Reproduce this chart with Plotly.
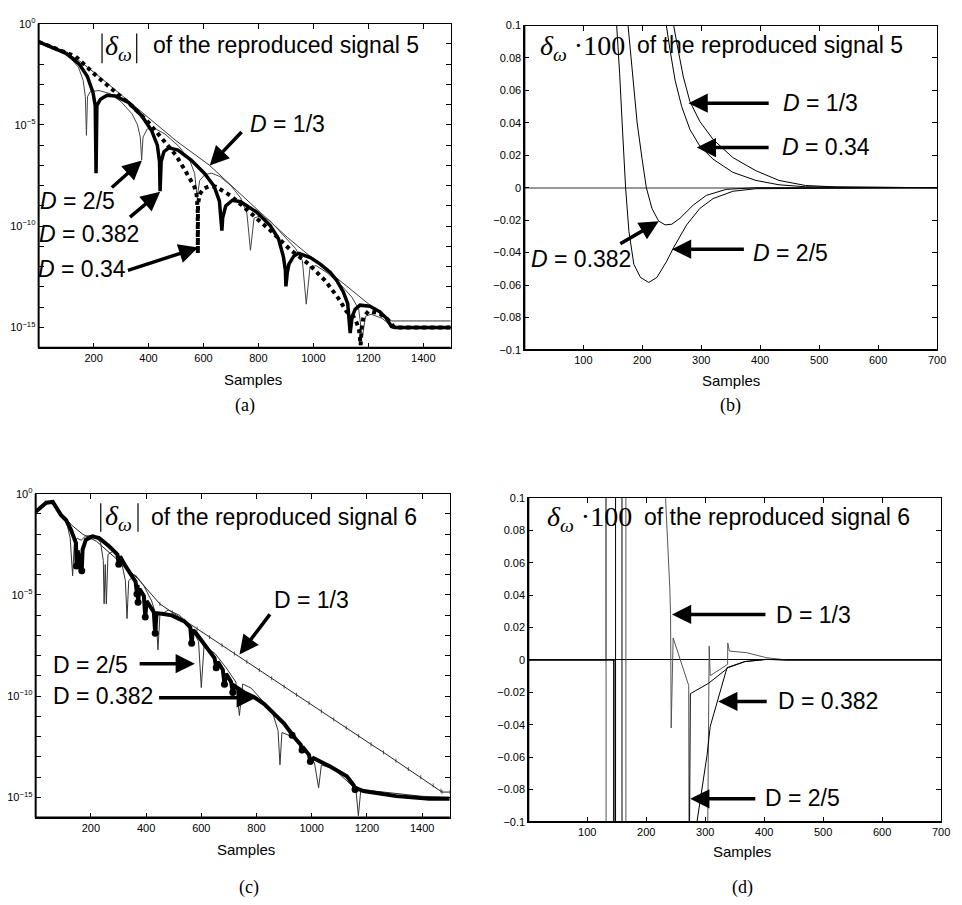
import plotly.graph_objects as go

W, H = 962, 905


def px(x):
    return x / W


def py(y):
    return 1 - y / H


# ---------------- Panel (a): |delta_w| of reproduced signal 5 (log10 values) ----------------
a_x_13 = [0, 40, 100, 150, 220, 300, 400, 500, 620, 750, 905, 1000, 1100, 1200, 1265, 1285, 1500]
a_e_13 = [-0.89, -1.08, -1.42, -1.85, -2.6, -3.5, -4.65, -5.78, -6.97, -8.6, -10.55, -11.62, -12.72,
          -13.85, -14.55, -14.68, -14.68]

a_x_25 = [0, 60, 110, 145, 162, 170, 174, 178, 188, 220, 260, 300, 340, 360, 370, 375, 380, 395, 420, 460,
          510, 550, 568, 577, 586, 605, 630, 660, 700, 735, 758, 771, 784, 805, 840, 890, 935, 960, 974, 988,
          1010, 1050, 1100, 1140, 1165, 1178, 1190, 1210, 1250, 1290, 1310, 1500]
a_e_25 = [-0.89, -1.2, -1.6, -2.15, -2.8, -3.6, -5.51, -3.6, -3.35, -3.3, -3.45, -3.85, -4.45, -5.0, -5.6,
          -6.73, -5.6, -5.2, -5.15, -5.45, -6.05, -6.75, -7.4, -8.6, -7.75, -7.45, -7.38, -7.55, -8.0, -8.6,
          -9.35, -11.19, -9.6, -9.5, -9.7, -10.45, -11.1, -11.7, -13.85, -12.0, -11.95, -12.3, -12.9, -13.5,
          -14.1, -15.5, -14.45, -14.35, -14.55, -15.0, -15.06, -15.06]

a_x_382 = [0, 40, 100, 147, 177, 198, 206, 209, 212, 225, 249, 279, 327, 375, 411, 432, 440, 442, 446, 456,
           474, 507, 555, 603, 639, 658, 664, 667, 670, 681, 705, 735, 795, 843, 873, 891, 898, 900, 905, 911,
           929, 947, 989, 1025, 1061, 1085, 1109, 1125, 1134, 1141, 1152, 1170, 1206, 1242, 1266, 1284, 1296,
           1500]
a_e_382 = [-0.89, -1.10, -1.46, -1.98, -2.59, -3.41, -4.05, -7.38, -4.05, -3.73, -3.53, -3.57, -3.89, -4.54,
           -5.27, -6.00, -6.81, -8.27, -6.81, -6.32, -6.13, -6.24, -6.73, -7.38, -8.03, -8.76, -9.57, -10.22,
           -9.57, -9.00, -8.72, -8.79, -9.32, -9.97, -10.62, -11.51, -12.16, -12.97, -12.3, -11.87, -11.47,
           -11.34, -11.55, -11.87, -12.28, -12.68, -13.25, -13.82, -15.28, -14.47, -14.11, -13.9, -13.95,
           -14.23, -14.55, -14.95, -15.0, -15.0]

a_x_34 = [0, 60, 135, 219, 339, 399, 459, 500, 531, 555, 567, 575, 579, 579.5, 580, 585, 600, 620, 645, 700,
          771, 843, 915, 983, 1043, 1092, 1121, 1146, 1158, 1166, 1170, 1172, 1176, 1182, 1200, 1240, 1270,
          1295, 1500]
a_e_34 = [-0.89, -1.2, -1.62, -2.68, -4.05, -4.86, -5.84, -6.5, -7.2, -7.75, -8.05, -8.45, -9.2, -11.35,
          -9.0, -8.45, -8.15, -8.03, -8.05, -8.5, -9.32, -10.2, -11.15, -11.87, -12.69, -13.58, -14.22, -14.47,
          -14.79, -15.1, -15.6, -15.88, -15.0, -14.5, -14.2, -14.3, -14.6, -15.0, -15.0]

# ---------------- Panel (b): delta_w*100 of reproduced signal 5 ----------------
b_x_13 = [248, 252.8, 261, 269.6, 280.8, 297.5, 320, 353.5, 392.6, 431.8, 476.5, 532.4, 700]
b_y_13 = [0.112, 0.1007, 0.0845, 0.0683, 0.0531, 0.0409, 0.0298, 0.0186, 0.0105, 0.0045, 0.0014, 0.0004, 0]

b_x_34 = [236, 240.5, 247.2, 255.6, 266.8, 280.8, 297.5, 320, 353.5, 392.6, 431.8, 476.5, 700]
b_y_34 = [0.115, 0.1007, 0.0845, 0.0663, 0.05, 0.0359, 0.0257, 0.0176, 0.0095, 0.0045, 0.0018, 0.0006, 0]

b_x_382 = [172, 175.6, 182.9, 191.3, 199.7, 206.9, 216.4, 227.6, 238.8, 250, 264, 286.4, 308.7, 342.3,
           392.6, 700]
b_y_382 = [0.115, 0.1007, 0.0703, 0.0399, 0.0176, 0, -0.0128, -0.0205, -0.0229, -0.0225, -0.0188, -0.0107,
           -0.0047, -0.001, 0, 0]

b_x_25 = [154, 156.6, 161.6, 166.7, 171.7, 177.3, 185.7, 196.9, 210.9, 224.8, 241.6, 252.8, 275.2, 297.5,
          320, 353.5, 392.6, 700]
b_y_25 = [0.115, 0.1007, 0.0703, 0.0338, 0, -0.027, -0.0472, -0.0553, -0.0584, -0.0553, -0.0452, -0.0371,
          -0.0229, -0.0128, -0.0067, -0.0022, -0.0006, 0]

# ---------------- Panel (c): |delta_w| of reproduced signal 6 (log10 values) ----------------
c_x_13 = [0, 20, 40, 62, 78, 100, 130, 170, 220, 270, 320, 370, 410, 450, 495, 540, 585, 630, 675, 720,
          765, 810, 855, 900, 945, 990, 1035, 1080, 1125, 1170, 1215, 1260, 1305, 1350, 1395, 1440, 1468,
          1472, 1500]
c_e_13 = [-0.89, -0.65, -0.47, -0.42, -0.75, -1.1, -1.55, -2.0, -2.35, -2.95, -3.55, -4.2, -4.8, -5.45,
          -5.86, -6.27, -6.67, -7.08, -7.49, -7.90, -8.30, -8.71, -9.12, -9.53, -9.93, -10.34, -10.75, -11.15,
          -11.56, -11.97, -12.38, -12.78, -13.19, -13.60, -14.00, -14.41, -14.67, -14.74, -14.74]

c_x_25 = [0, 20, 40, 62, 75, 95, 112, 125, 134, 140, 150, 165, 180, 210, 235, 245, 248, 252, 256, 262,
          285, 310, 325, 331, 337, 360, 390, 420, 436, 443, 450, 480, 520, 560, 590, 600, 610, 650, 690, 725,
          738, 750, 780, 820, 860, 878, 885, 892, 930, 970, 1010, 1025, 1035, 1080, 1130, 1160, 1169, 1178,
          1200, 1300, 1400, 1500]
c_e_25 = [-0.89, -0.65, -0.5, -0.42, -0.7, -1.05, -1.4, -2.2, -4.06, -2.5, -2.2, -2.3, -2.1, -2.05, -2.4,
          -3.3, -5.44, -3.5, -5.44, -3.0, -2.8, -3.3, -4.3, -6.17, -4.3, -4.0, -4.5, -5.3, -6.0, -7.71, -6.0,
          -5.75, -6.0, -6.5, -7.3, -9.58, -7.5, -7.9, -8.6, -9.3, -10.96, -9.4, -9.6, -10.2, -10.9, -11.7,
          -13.39, -11.8, -12.0, -12.6, -13.3, -14.53, -13.4, -13.6, -14.2, -14.6, -15.91, -14.6, -14.65,
          -14.8, -14.95, -15.0]

c_x_382 = [0, 20, 38, 62, 74, 92, 110, 128, 146, 148, 152, 158, 164, 167, 170, 182, 206, 230, 266, 296,
           301, 306, 325, 349, 362, 367, 369, 371, 376, 392, 397, 402, 421, 428, 433, 438, 457, 493, 541, 560,
           565, 570, 577, 612, 648, 654, 660, 678, 684, 690, 708, 714, 720, 756, 792, 828, 864, 900, 924, 929,
           935, 960, 965, 971, 990, 995, 1007, 1067, 1127, 1152, 1157, 1162, 1187, 1246, 1306, 1426, 1500]
c_e_382 = [-0.89, -0.65, -0.45, -0.41, -0.65, -1.06, -1.30, -1.79, -2.44, -3.57, -2.8, -3.25, -3.81, -3.81,
           -2.76, -2.27, -2.11, -2.19, -2.60, -3.0, -3.49, -3.1, -3.57, -4.06, -4.35, -4.95, -4.5, -5.36, -4.7,
           -5.05, -6.09, -5.3, -5.68, -5.85, -6.90, -5.9, -5.93, -6.01, -6.33, -6.6, -7.39, -6.75, -6.82,
           -7.47, -8.12, -8.60, -8.3, -8.7, -9.42, -8.9, -9.3, -9.82, -9.5, -9.82, -10.06, -10.39, -10.88,
           -11.36, -11.8, -11.93, -12.01, -12.4, -12.66, -12.58, -12.9, -13.23, -13.07, -13.48, -13.96, -14.4,
           -14.61, -14.55, -14.69, -14.81, -14.94, -15.07, -15.07]

c_dot_x = [148, 167, 301, 367, 371, 397, 433, 565, 654, 684, 714, 929, 965, 995, 1157]
c_dot_e = [-3.57, -3.81, -3.49, -4.95, -5.36, -6.09, -6.90, -7.39, -8.60, -9.42, -9.82, -11.93, -12.66,
           -13.23, -14.61]

# ---------------- Panel (d): delta_w*100 of reproduced signal 6 ----------------
d_x_13 = [0, 131.7, 131.8, 131.9, 165.4, 165.5, 225, 232.8, 240, 241.2, 242.3, 245.6, 272, 273.5, 300,
          305.7, 306.7, 308.5, 338, 338.2, 341, 370, 403.8, 437.5, 700]
d_y_13 = [0, 0, 0.3, -0.3, -0.3, 0.3, 0.3, 0.0996, 0.044, 0.028, -0.042, 0.0136, -0.0158, -0.3, -0.3,
          -0.041, 0.0085, -0.0097, -0.0027, 0.0105, 0.0055, 0.0045, 0.0014, 0, 0]

d_x_25 = [0, 144.6, 144.7, 147.9, 148, 158.8, 158.9, 270, 274.8, 305.7, 339.3, 367.3, 403.8, 437.5, 700]
d_y_25 = [0, 0, -0.3, -0.3, 0.3, 0.3, -0.3, -0.3, -0.0208, -0.0144, -0.0047, -0.001, 0.0004, 0, 0]

d_x_382 = [0, 146.9, 147, 280, 286, 303, 308.5, 337, 367.3, 403.8, 437.5, 700]
d_y_382 = [0, 0, -0.3, -0.3, -0.1, -0.059, -0.041, -0.0047, -0.001, 0.0003, 0, 0]

# ---------------- Tick labels ----------------
x_ticks_long = [200, 400, 600, 800, 1000, 1200, 1400]
x_ticks_short = [100, 200, 300, 400, 500, 600, 700]
lin_tick_vals = [-0.1, -0.08, -0.06, -0.04, -0.02, 0, 0.02, 0.04, 0.06, 0.08, 0.1]
lin_tick_text = ['\u22120.1', '\u22120.08', '\u22120.06', '\u22120.04', '\u22120.02', '0',
                 '0.02', '0.04', '0.06', '0.08', '0.1']
log_decades = list(range(0, 17))
log_labelled = [0, 5, 10, 15]


def logv(e):
    return [10.0 ** v for v in e]


log_tick_vals = [10.0 ** (-k) for k in log_decades]
log_tick_text = [('10<sup>0</sup>' if k == 0 else '10<sup>\u2212%d</sup>' % k) if k in log_labelled else ''
                 for k in log_decades]

SANS = 'Liberation Sans, Arial, Helvetica, sans-serif'
SERIF = 'Liberation Serif, Times New Roman, serif'

fig = go.Figure()

# panel a
fig.add_trace(go.Scatter(x=a_x_13, y=logv(a_e_13), xaxis='x', yaxis='y', mode='lines',
                         line=dict(color='#3a3a3a', width=1)))
fig.add_trace(go.Scatter(x=a_x_25, y=logv(a_e_25), xaxis='x', yaxis='y', mode='lines',
                         line=dict(color='#444444', width=1)))
fig.add_trace(go.Scatter(x=a_x_382, y=logv(a_e_382), xaxis='x', yaxis='y', mode='lines',
                         line=dict(color='black', width=3.5)))
fig.add_trace(go.Scatter(x=a_x_34, y=logv(a_e_34), xaxis='x', yaxis='y', mode='lines',
                         line=dict(color='black', width=4, dash='4px,4px')))

# panel b
for xs, ys in [(b_x_13, b_y_13), (b_x_34, b_y_34), (b_x_382, b_y_382), (b_x_25, b_y_25)]:
    fig.add_trace(go.Scatter(x=xs, y=ys, xaxis='x2', yaxis='y2', mode='lines',
                             line=dict(color='black', width=1)))

# panel c
c13_marker_sizes = [0 if v < 450 else 3 for v in c_x_13]
fig.add_trace(go.Scatter(x=c_x_13, y=logv(c_e_13), xaxis='x3', yaxis='y3', mode='lines+markers',
                         line=dict(color='#222222', width=1),
                         marker=dict(symbol='line-ns-open', size=c13_marker_sizes,
                                     line=dict(color='#222222', width=1))))
fig.add_trace(go.Scatter(x=c_x_25, y=logv(c_e_25), xaxis='x3', yaxis='y3', mode='lines',
                         line=dict(color='#333333', width=1)))
fig.add_trace(go.Scatter(x=c_x_382, y=logv(c_e_382), xaxis='x3', yaxis='y3', mode='lines',
                         line=dict(color='black', width=4)))
fig.add_trace(go.Scatter(x=c_dot_x, y=logv(c_dot_e), xaxis='x3', yaxis='y3', mode='markers',
                         marker=dict(color='black', size=7)))

# panel d
fig.add_trace(go.Scatter(x=d_x_13, y=d_y_13, xaxis='x4', yaxis='y4', mode='lines',
                         line=dict(color='#555555', width=1)))
fig.add_trace(go.Scatter(x=d_x_25, y=d_y_25, xaxis='x4', yaxis='y4', mode='lines',
                         line=dict(color='black', width=1)))
fig.add_trace(go.Scatter(x=d_x_382, y=d_y_382, xaxis='x4', yaxis='y4', mode='lines',
                         line=dict(color='black', width=1)))

axis_common = dict(showline=True, linecolor='black', linewidth=1, mirror='ticks', ticks='inside',
                   ticklen=5, tickwidth=1, tickcolor='black', showgrid=False, zeroline=False,
                   tickfont=dict(family=SANS, size=11, color='black'), fixedrange=True)

fig.update_layout(
    width=W, height=H, margin=dict(l=0, r=0, t=0, b=0),
    paper_bgcolor='white', plot_bgcolor='white', showlegend=False, hovermode=False,
    xaxis=dict(axis_common, domain=[px(39), px(455)], range=[0, 1500], tickvals=x_ticks_long, anchor='y'),
    yaxis=dict(axis_common, domain=[py(345), py(16)], type='log', range=[-16, 0],
               tickvals=log_tick_vals, ticktext=log_tick_text, anchor='x'),
    xaxis2=dict(axis_common, domain=[px(529.3), px(946)], range=[0, 700], tickvals=x_ticks_short,
                anchor='y2'),
    yaxis2=dict(axis_common, domain=[py(347.3), py(17.8)], range=[-0.1, 0.1], tickvals=lin_tick_vals,
                ticktext=lin_tick_text, anchor='x2', zeroline=True, zerolinecolor='#999999',
                zerolinewidth=2),
    xaxis3=dict(axis_common, domain=[px(36), px(454)], range=[0, 1500], tickvals=x_ticks_long, anchor='y3'),
    yaxis3=dict(axis_common, domain=[py(822.3), py(493.3)], type='log', range=[-16, 0],
                tickvals=log_tick_vals, ticktext=log_tick_text, anchor='x3'),
    xaxis4=dict(axis_common, domain=[px(533.3), px(950)], range=[0, 700], tickvals=x_ticks_short,
                anchor='y4'),
    yaxis4=dict(axis_common, domain=[py(826.7), py(497.7)], range=[-0.1, 0.1], tickvals=lin_tick_vals,
                ticktext=lin_tick_text, anchor='x4', zeroline=True, zerolinecolor='black',
                zerolinewidth=1),
)

shapes = []
for s in ['', '2', '3', '4']:
    xr, yr = 'x%s domain' % s, 'y%s domain' % s
    shapes.append(dict(type='line', xref=xr, yref=yr, x0=0, x1=1, y0=0, y1=0,
                       line=dict(color='black', width=2), layer='above'))
    shapes.append(dict(type='line', xref=xr, yref=yr, x0=0, x1=0, y0=0, y1=1,
                       line=dict(color='black', width=2), layer='above'))
# absolute-value bars around delta_w in (a) and (c)
for xb, y0, y1 in [(103, 26, 56), (138, 26, 56), (101.7, 503, 532), (139.3, 503, 532)]:
    shapes.append(dict(type='line', xref='paper', yref='paper', x0=px(xb), x1=px(xb), y0=py(y0), y1=py(y1),
                       line=dict(color='black', width=1.2)))
fig.update_layout(shapes=shapes)

ann = []


def text(x, y, t, size, family=SANS, xanchor='center'):
    ann.append(dict(x=px(x), y=py(y), xref='paper', yref='paper', text=t, showarrow=False,
                    xanchor=xanchor, yanchor='middle', font=dict(family=family, size=size, color='black')))


def arrow(tip_x, tip_y, tail_x, tail_y):
    ann.append(dict(x=px(tip_x), y=py(tip_y), xref='paper', yref='paper', text='', showarrow=True,
                    ax=tail_x - tip_x, ay=tail_y - tip_y, arrowhead=2, arrowsize=1.1, arrowwidth=3.5,
                    arrowcolor='black', standoff=0, startstandoff=0))


DW = '<i>\u03b4</i><sub><i>\u03c9</i></sub>'

# titles
text(120, 40, DW, 28, SERIF)
text(289, 38, 'of the reproduced signal 5', 23)
text(543, 40, DW + ' \u00b7100', 28, SERIF, 'left')
text(777, 38, 'of the reproduced signal 5', 23)
text(120, 518, DW, 28, SERIF)
text(287, 517, 'of the reproduced signal 6', 23)
text(550, 519, DW + ' \u00b7100', 28, SERIF, 'left')
text(784, 517, 'of the reproduced signal 6', 23)

# panel a labels
text(290, 118, '<i>D</i> = 1/3', 23)
arrow(211.7, 160, 245, 125)
text(78, 196, '<i>D</i> = 2/5', 23)
arrow(143.3, 155, 111.7, 183.3)
text(90, 230, '<i>D</i> = 0.382', 23)
arrow(161.7, 186.7, 130, 213.3)
text(83, 265, '<i>D</i> = 0.34', 23)
arrow(200, 243.3, 128.3, 266.7)

# panel b labels
text(828, 97, '<i>D</i> = 1/3', 23)
arrow(695, 96.7, 776.7, 96.7)
text(834, 141, '<i>D</i> = 0.34', 23)
arrow(703.3, 141.7, 776.7, 141.7)
text(586, 255, '<i>D</i> = 0.382', 23)
arrow(665, 216.7, 625, 240)
text(798, 249, '<i>D</i> = 2/5', 23)
arrow(678.3, 245, 751.7, 245)

# panel c labels
text(314, 601, 'D = 1/3', 23)
arrow(241.7, 656.7, 273.3, 615)
text(91, 667, 'D = 2/5', 23)
arrow(196.7, 666, 140, 666)
text(104, 699, 'D = 0.382', 23)
arrow(258.3, 700.7, 160, 700.7)

# panel d labels
text(821, 617, 'D = 1/3', 23)
arrow(678.3, 616, 773.3, 616)
text(836, 704, 'D = 0.382', 23)
arrow(725, 704.3, 775, 704.3)
text(810, 802, 'D = 2/5', 23)
arrow(696.7, 803.3, 763.3, 803.3)

# axis titles and captions
text(255, 377, 'Samples', 15)
text(738, 378, 'Samples', 15)
text(248, 855, 'Samples', 15)
text(749, 857, 'Samples', 15)
text(247, 404, '(a)', 18, SERIF)
text(737, 404, '(b)', 18, SERIF)
text(251, 893, '(c)', 18, SERIF)
text(750, 893, '(d)', 18, SERIF)

fig.update_layout(annotations=ann)

fig.write_html('out.html', config={'displayModeBar': False, 'staticPlot': True},
               post_script="document.body.style.margin='0px';document.body.style.overflow='hidden';")
